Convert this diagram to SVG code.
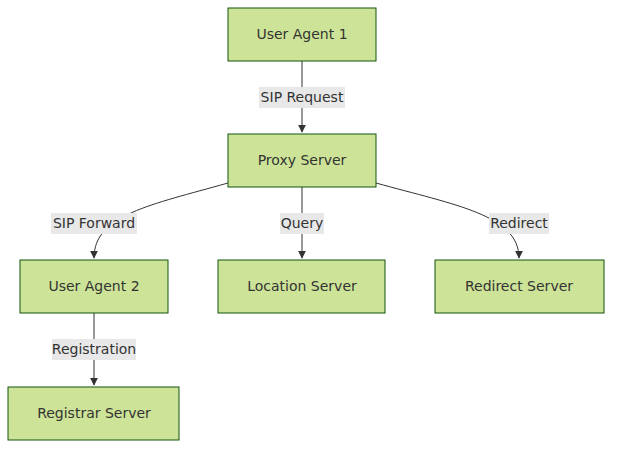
<svg xmlns="http://www.w3.org/2000/svg" width="620" height="454" viewBox="0 0 620 454">
<style>
.n rect{fill:#cde498;stroke:#13540c;stroke-width:1}
text{font-family:"Trebuchet MS","DejaVu Sans","Liberation Sans",sans-serif;font-size:14px;fill:#333;text-anchor:middle;dominant-baseline:central}
.e path{fill:none;stroke:#333;stroke-width:1}
.l rect{fill:#e8e8e8}
</style>
<defs><marker id="a" viewBox="0 0 10 10" refX="9" refY="5" markerWidth="8" markerHeight="8" orient="auto"><path d="M0,0L10,5L0,10z" fill="#333"/></marker></defs>
<g class="e">
<path d="M302,61V132" marker-end="url(#a)"/>
<path d="M228,183C150,205 94,215 94,258" marker-end="url(#a)"/>
<path d="M302,187V258" marker-end="url(#a)"/>
<path d="M376,183C455,205 519,215 519,258" marker-end="url(#a)"/>
<path d="M94,313V385" marker-end="url(#a)"/>
<g class="l">
<rect x="259" y="87" width="86" height="21"/><text x="302" y="97">SIP Request</text>
<rect x="51" y="213" width="86" height="21"/><text x="94" y="223">SIP Forward</text>
<rect x="280" y="213" width="44" height="21"/><text x="302" y="223">Query</text>
<rect x="489" y="213" width="60" height="21"/><text x="519" y="223">Redirect</text>
<rect x="52" y="339" width="84" height="21"/><text x="94" y="349">Registration</text>
</g>
</g>
<g id="ua1" class="n"><rect x="228" y="8" width="148" height="53"/><text x="302" y="34">User Agent 1</text></g>
<g id="proxy" class="n"><rect x="228" y="134" width="148" height="53"/><text x="302" y="160">Proxy Server</text></g>
<g id="ua2" class="n"><rect x="20" y="260" width="148" height="53"/><text x="94" y="286">User Agent 2</text></g>
<g id="loc" class="n"><rect x="218" y="260" width="167" height="53"/><text x="302" y="286">Location Server</text></g>
<g id="red" class="n"><rect x="435" y="260" width="169" height="53"/><text x="519" y="286">Redirect Server</text></g>
<g id="reg" class="n"><rect x="8" y="387" width="171" height="53"/><text x="94" y="413">Registrar Server</text></g>
</svg>
